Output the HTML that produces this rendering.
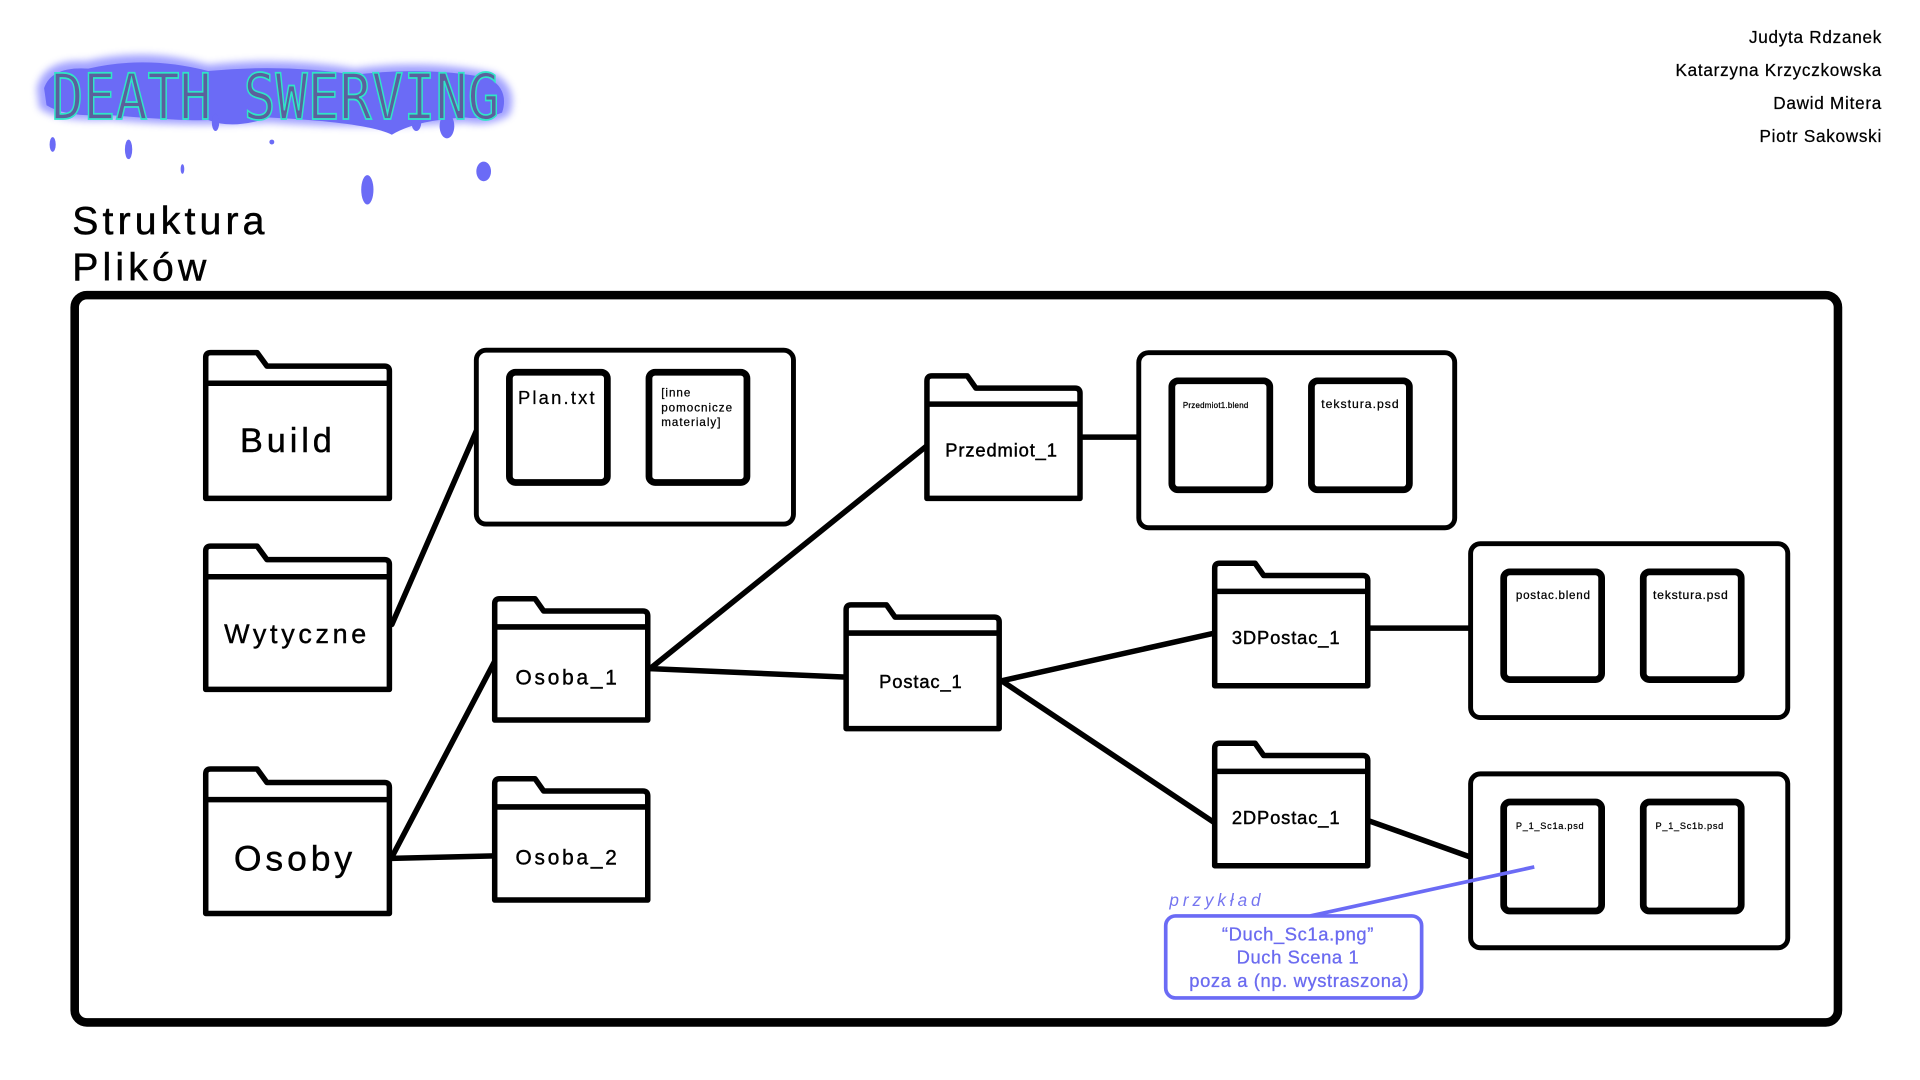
<!DOCTYPE html>
<html><head><meta charset="utf-8">
<style>
html,body{margin:0;padding:0;background:#fff;width:1920px;height:1080px;overflow:hidden}
svg{display:block}
text{font-family:"Liberation Sans",sans-serif}
</style></head>
<body>
<svg width="1920" height="1080" viewBox="0 0 1568 882" preserveAspectRatio="none" xmlns="http://www.w3.org/2000/svg">
<defs>
<filter id="glow" x="-20%" y="-50%" width="140%" height="200%"><feGaussianBlur stdDeviation="3"/></filter>
</defs>
<rect width="1568" height="882" fill="#fff"/>

<!-- logo -->
<g>
<path d="M30,72 Q36,48 70,50 Q120,38 170,53 Q230,46 290,56 Q350,48 404,60 Q424,72 416,94 Q400,104 380,100 Q300,106 220,100 Q150,104 90,98 Q46,100 32,88 Z" fill="#8a8aff" filter="url(#glow)" opacity="0.8"/>
<path d="M36,72 Q42,54 72,56 Q120,45 170,58 Q230,52 290,61 Q350,54 400,64 Q416,74 410,92 Q396,98 380,96 Q340,98 320,110 Q300,100 220,96 Q190,106 170,98 Q150,99 90,94 Q54,96 38,86 Z" fill="#6b6bf6"/>
<ellipse cx="300" cy="155" rx="5" ry="12" fill="#6b6bf6"/>
<ellipse cx="395" cy="140" rx="6" ry="8" fill="#6b6bf6"/>
<ellipse cx="105" cy="122" rx="3" ry="8" fill="#6b6bf6"/>
<ellipse cx="43" cy="118" rx="2.5" ry="6" fill="#6b6bf6"/>
<ellipse cx="176" cy="100" rx="3" ry="7" fill="#6b6bf6"/>
<ellipse cx="365" cy="103" rx="6" ry="10" fill="#6b6bf6"/>
<ellipse cx="340" cy="100" rx="4" ry="7" fill="#6b6bf6"/>
<ellipse cx="222" cy="116" rx="2" ry="2" fill="#6b6bf6"/>
<ellipse cx="149" cy="138" rx="1.5" ry="4" fill="#6b6bf6"/>
<text x="42" y="97" font-size="52" textLength="366" lengthAdjust="spacingAndGlyphs" fill="#5c5f9c" stroke="#2fe6c8" stroke-width="1.4" style="font-family:'DejaVu Sans Mono','Liberation Mono',monospace">DEATH SWERVING</text>
</g>

<!-- authors -->
<g font-size="14" fill="#000" text-anchor="end" letter-spacing="0.6" stroke="#000" stroke-width="0.2">
<text x="1537" y="35">Judyta Rdzanek</text>
<text x="1537" y="62">Katarzyna Krzyczkowska</text>
<text x="1537" y="89">Dawid Mitera</text>
<text x="1537" y="116">Piotr Sakowski</text>
</g>

<g font-size="32" fill="#000" letter-spacing="3.4" stroke="#000" stroke-width="0.4">
<text x="59" y="191">Struktura</text>
<text x="59" y="229">Plików</text>
</g>

<rect x="61" y="241" width="1440" height="594" rx="10" fill="none" stroke="#000" stroke-width="7"/>

<!-- lines -->
<g stroke="#000" stroke-width="4.5" fill="none" stroke-linecap="round">
<line x1="320" y1="510" x2="389" y2="352"/>
<line x1="320" y1="700" x2="404" y2="540"/>
<line x1="320" y1="701" x2="404" y2="699"/>
<line x1="531" y1="546" x2="757" y2="364"/>
<line x1="531" y1="546" x2="691" y2="553"/>
<line x1="882" y1="357" x2="930" y2="357"/>
<line x1="818" y1="556" x2="992" y2="517"/>
<line x1="818" y1="556" x2="992" y2="672"/>
<line x1="1117" y1="513" x2="1201" y2="513"/>
<line x1="1117" y1="670" x2="1201" y2="700"/>
</g>

<!-- folders -->
<g stroke="#000" stroke-width="4.5" fill="#fff" stroke-linejoin="round">
<path d="M168,407 V292 Q168,288 172,288 H210 L218,299 H314 Q318,299 318,303 V407 Z"/><line x1="168" y1="313" x2="318" y2="313"/>
<path d="M168,563 V450 Q168,446 172,446 H210 L218,457 H314 Q318,457 318,461 V563 Z"/><line x1="168" y1="471" x2="318" y2="471"/>
<path d="M168,746 V632 Q168,628 172,628 H210 L218,639 H314 Q318,639 318,643 V746 Z"/><line x1="168" y1="653" x2="318" y2="653"/>
<path d="M404,588 V493 Q404,489 408,489 H437 L444,499 H525 Q529,499 529,503 V588 Z"/><line x1="404" y1="512" x2="529" y2="512"/>
<path d="M404,735 V640 Q404,636 408,636 H437 L444,646 H525 Q529,646 529,650 V735 Z"/><line x1="404" y1="659" x2="529" y2="659"/>
<path d="M757,407 V311 Q757,307 761,307 H790 L797,317 H878 Q882,317 882,321 V407 Z"/><line x1="757" y1="330" x2="882" y2="330"/>
<path d="M691,595 V498 Q691,494 695,494 H724 L731,504 H812 Q816,504 816,508 V595 Z"/><line x1="691" y1="517" x2="816" y2="517"/>
<path d="M992,560 V464 Q992,460 996,460 H1025 L1032,470 H1113 Q1117,470 1117,474 V560 Z"/><line x1="992" y1="483" x2="1117" y2="483"/>
<path d="M992,707 V611 Q992,607 996,607 H1025 L1032,617 H1113 Q1117,617 1117,621 V707 Z"/><line x1="992" y1="630" x2="1117" y2="630"/>
</g>

<!-- containers -->
<g stroke="#000" fill="#fff" stroke-width="4">
<rect x="389" y="286" width="259" height="142" rx="8"/>
<rect x="930" y="288" width="258" height="143" rx="8"/>
<rect x="1201" y="444" width="259" height="142" rx="8"/>
<rect x="1201" y="632" width="259" height="142" rx="8"/>
</g>
<g stroke="#000" fill="#fff" stroke-width="5.5">
<rect x="416" y="304" width="80" height="90" rx="5"/>
<rect x="530" y="304" width="80" height="90" rx="5"/>
<rect x="957" y="311" width="80" height="89" rx="5"/>
<rect x="1071" y="311" width="80" height="89" rx="5"/>
<rect x="1228" y="467" width="80" height="88" rx="5"/>
<rect x="1342" y="467" width="80" height="88" rx="5"/>
<rect x="1228" y="655" width="80" height="89" rx="5"/>
<rect x="1342" y="655" width="80" height="89" rx="5"/>
</g>

<!-- labels -->
<g fill="#000" stroke="#000" stroke-width="0.35">
<text x="196" y="369" font-size="28" letter-spacing="3.2">Build</text>
<text x="183" y="525" font-size="22" letter-spacing="3">Wytyczne</text>
<text x="191" y="711" font-size="29" letter-spacing="3.2">Osoby</text>
<text x="421" y="559" font-size="17" letter-spacing="2.3">Osoba_1</text>
<text x="421" y="706" font-size="17" letter-spacing="2.3">Osoba_2</text>
<text x="772" y="373" font-size="15" letter-spacing="0.7">Przedmiot_1</text>
<text x="718" y="562" font-size="15" letter-spacing="0.7">Postac_1</text>
<text x="1006" y="526" font-size="15" letter-spacing="0.7">3DPostac_1</text>
<text x="1006" y="673" font-size="15" letter-spacing="0.7">2DPostac_1</text>
</g>
<g fill="#000" stroke="#000" stroke-width="0.2">
<text x="423" y="330" font-size="15" letter-spacing="1.8">Plan.txt</text>
<text x="540" y="324" font-size="9.5" letter-spacing="0.8">[inne</text>
<text x="540" y="336" font-size="9.5" letter-spacing="0.8">pomocnicze</text>
<text x="540" y="348" font-size="9.5" letter-spacing="0.8">materialy]</text>
<text x="966" y="333" font-size="6.5" letter-spacing="0.2">Przedmiot1.blend</text>
<text x="1079" y="333" font-size="10" letter-spacing="0.8">tekstura.psd</text>
<text x="1238" y="489" font-size="9.5" letter-spacing="0.6">postac.blend</text>
<text x="1350" y="489" font-size="10" letter-spacing="0.6">tekstura.psd</text>
<text x="1238" y="677" font-size="7.5" letter-spacing="0.6">P_1_Sc1a.psd</text>
<text x="1352" y="677" font-size="7.5" letter-spacing="0.6">P_1_Sc1b.psd</text>
</g>

<!-- example annotation -->
<line x1="1253" y1="708" x2="1070" y2="748" stroke="#6b6bf5" stroke-width="3"/>
<text x="955" y="740" font-size="14" font-style="italic" fill="#7575f0" letter-spacing="3.2">przykład</text>
<rect x="952" y="748" width="209" height="67" rx="8" fill="#fff" stroke="#6b6bf5" stroke-width="3"/>
<g fill="#6b6bf0" font-size="15" text-anchor="middle" letter-spacing="0.5" stroke="#6b6bf0" stroke-width="0.25">
<text x="1060" y="768">“Duch_Sc1a.png”</text>
<text x="1060" y="787">Duch Scena 1</text>
<text x="1061" y="806">poza a (np. wystraszona)</text>
</g>
</svg>
</body></html>
